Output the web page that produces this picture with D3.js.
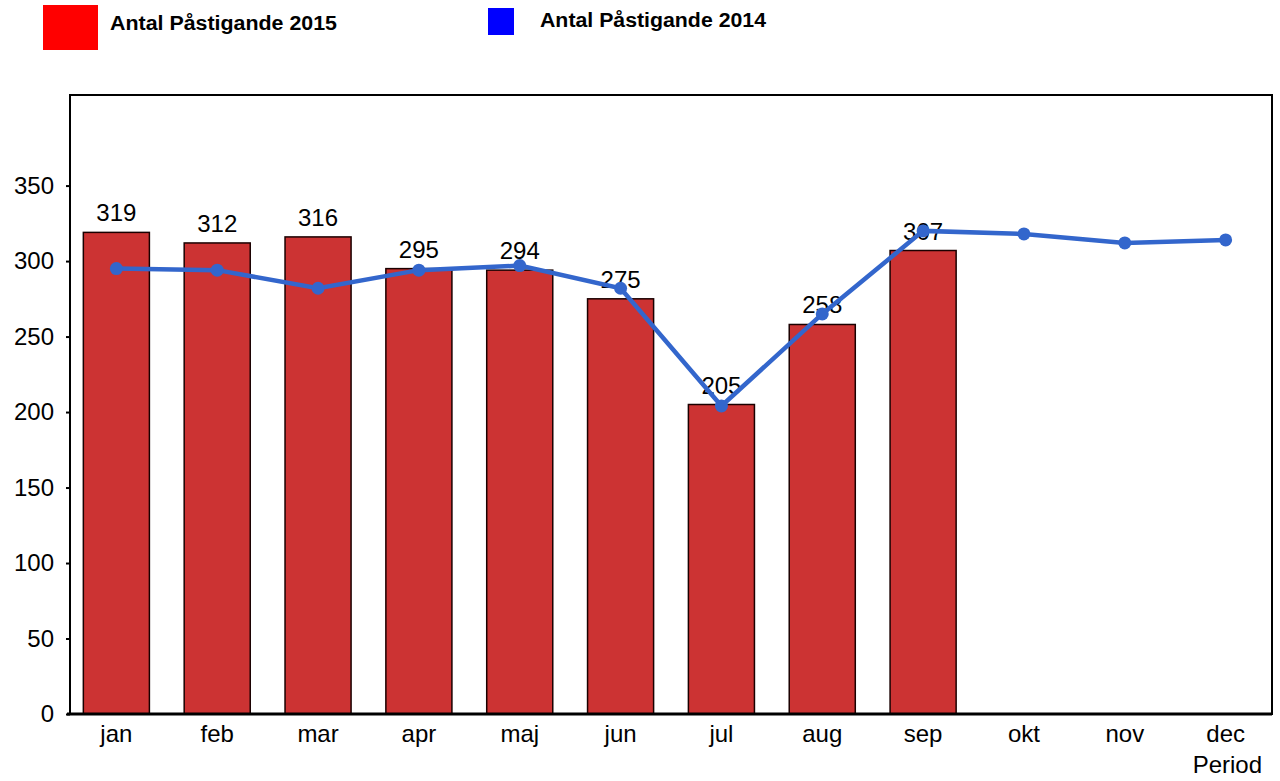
<!DOCTYPE html>
<html>
<head>
<meta charset="utf-8">
<script src="https://cdn.jsdelivr.net/npm/d3@7"></script>
<style>
body{margin:0;background:#fff;}
svg{font-family:Arial,"Liberation Sans",sans-serif;}
</style>
</head>
<body>
<svg width="1280" height="781"></svg>
<script>
// data
let months=['jan','feb','mar','apr','maj','jun','jul','aug','sep','okt','nov','dec']
let pax2015=[319,312,316,295,294,275,205,258,307]
let pax2014=[295,294,282,294,297,282,204,265,320,318,312,314]
let yTicks=[0,50,100,150,200,250,300,350]

let svg=d3.select('svg')
let plotL=70,plotR=1272,plotT=95,plotB=714

let x=d3.scaleBand().domain(months).range([66,1276]).paddingInner(0.345).paddingOuter(0.172)
let y=d3.scaleLinear().domain([0,410]).range([plotB,plotT])

// frame
svg.append('rect').attr('x',plotL).attr('y',plotT).attr('width',plotR-plotL).attr('height',plotB-plotT)
  .attr('fill','none').attr('stroke','#000').attr('stroke-width',2)

// bars 2015
svg.append('g').selectAll('rect').data(pax2015).enter().append('rect')
  .attr('x',(d,i)=>x(months[i]))
  .attr('y',d=>y(d))
  .attr('width',x.bandwidth())
  .attr('height',d=>y(0)-y(d))
  .attr('fill','#cc3333').attr('stroke','#1a0000').attr('stroke-width',1.5)

// bar labels
svg.append('g').selectAll('text').data(pax2015).enter().append('text')
  .attr('x',(d,i)=>x(months[i])+x.bandwidth()/2)
  .attr('y',d=>y(d)-11)
  .attr('text-anchor','middle').attr('font-size',24).attr('fill','#000')
  .text(d=>d)

// line 2014
let line=d3.line().x((d,i)=>x(months[i])+x.bandwidth()/2).y(d=>y(d))
svg.append('path').datum(pax2014).attr('d',line)
  .attr('fill','none').attr('stroke','#3366cc').attr('stroke-width',4.5)
svg.append('g').selectAll('circle').data(pax2014).enter().append('circle')
  .attr('cx',(d,i)=>x(months[i])+x.bandwidth()/2)
  .attr('cy',d=>y(d)).attr('r',6.5).attr('fill','#3366cc')

// y axis
let yAxis=svg.append('g').attr('transform','translate('+plotL+',0)')
  .call(d3.axisLeft(y).tickValues(yTicks).tickSize(4).tickPadding(12))
yAxis.select('.domain').remove()
yAxis.selectAll('line').attr('stroke','#000').attr('stroke-width',2)
yAxis.selectAll('text').attr('font-size',24).attr('fill','#000').attr('font-family','Arial,"Liberation Sans",sans-serif')

// x axis
let xAxis=svg.append('g').attr('transform','translate(0,'+plotB+')')
  .call(d3.axisBottom(x).tickSize(0).tickPadding(11))
xAxis.select('.domain').remove()
xAxis.selectAll('text').attr('font-size',24).attr('fill','#000').attr('font-family','Arial,"Liberation Sans",sans-serif')

svg.append('line').attr('x1',plotL-3).attr('x2',plotR).attr('y1',plotB).attr('y2',plotB)
  .attr('stroke','#000').attr('stroke-width',3)

svg.append('text').attr('x',1262).attr('y',773).attr('text-anchor','end')
  .attr('font-size',24).text('Period')

// legend
let legend=svg.append('g').attr('class','legend')
legend.append('rect').attr('x',43).attr('y',5).attr('width',55).attr('height',45).attr('fill','#ff0000')
legend.append('text').attr('x',110).attr('y',30).attr('font-size',20).attr('font-weight','bold')
  .attr('textLength',227).attr('lengthAdjust','spacingAndGlyphs').text('Antal Påstigande 2015')
legend.append('rect').attr('x',488).attr('y',8).attr('width',26).attr('height',27).attr('fill','#0000ff')
legend.append('text').attr('x',540).attr('y',27).attr('font-size',20).attr('font-weight','bold')
  .attr('textLength',226).attr('lengthAdjust','spacingAndGlyphs').text('Antal Påstigande 2014')
</script>
</body>
</html>
